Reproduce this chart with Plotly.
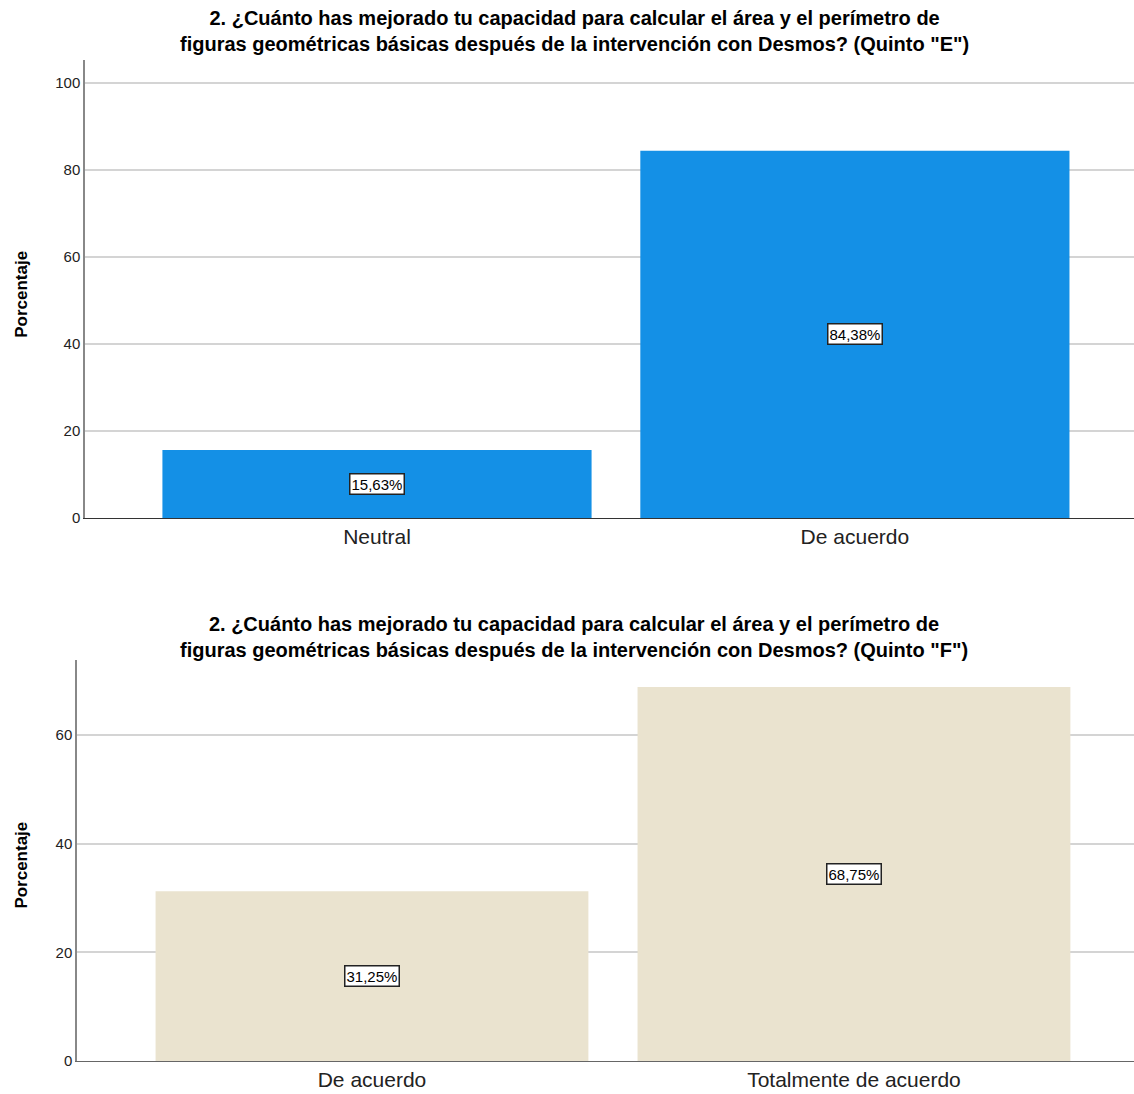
import plotly.graph_objects as go

# Data
cats_e = ["Neutral", "De acuerdo"]
vals_e = [15.63, 84.38]
cats_f = ["De acuerdo", "Totalmente de acuerdo"]
vals_f = [31.25, 68.75]
title_e = ["2. ¿Cuánto has mejorado tu capacidad para calcular el área y el perímetro de",
           "figuras geométricas básicas después de la intervención con Desmos? (Quinto \"E\")"]
title_f = ["2. ¿Cuánto has mejorado tu capacidad para calcular el área y el perímetro de",
           "figuras geométricas básicas después de la intervención con Desmos? (Quinto \"F\")"]
y_ticks_e = [0, 20, 40, 60, 80, 100]
y_ticks_f = [0, 20, 40, 60]

W, H = 1134, 1094
FONT = "Liberation Sans, Arial, sans-serif"

def fmt(v):
    return f"{v:.2f}".replace(".", ",") + "%"

fig = go.Figure()
fig.add_trace(go.Bar(x=cats_e, y=vals_e, marker=dict(color="#1490E6", line=dict(width=0)),
                     width=0.898, xaxis="x", yaxis="y", showlegend=False, hoverinfo="skip"))
fig.add_trace(go.Bar(x=cats_f, y=vals_f, marker=dict(color="#EAE3CF", line=dict(width=0)),
                     width=0.898, xaxis="x2", yaxis="y2", showlegend=False, hoverinfo="skip"))

ax_common = dict(showgrid=False, zeroline=False, ticks="", showline=True,
                 linewidth=1, tickfont=dict(family=FONT, size=21, color="#222"))
ay_common = dict(showgrid=True, gridcolor="#d4d4d4", gridwidth=1.5, zeroline=False,
                 showline=True, linecolor="#888", linewidth=1.5, ticks="",
                 tickfont=dict(family=FONT, size=15, color="#222"))

fig.update_layout(
    width=W, height=H, margin=dict(l=0, r=0, t=0, b=0),
    paper_bgcolor="white", plot_bgcolor="white",
    xaxis=dict(domain=[85 / W, 1], range=[-0.611, 1.584], linecolor="#333", **ax_common),
    yaxis=dict(domain=[1 - 522 / H, 1 - 60 / H], range=[0, 105.3], tickvals=y_ticks_e, **ay_common),
    xaxis2=dict(domain=[77 / W, 1], range=[-0.612, 1.581], linecolor="#666", anchor="y2", **ax_common),
    yaxis2=dict(domain=[1 - 1069 / H, 1 - 665 / H], range=[0, 73.7], tickvals=y_ticks_f, anchor="x2", **ay_common),
    bargap=0.1,
)

anns = []
lab_font = dict(family=FONT, size=15, color="black")
for c, v in zip(cats_e, vals_e):
    anns.append(dict(x=c, y=v / 2, xref="x", yref="y", text=fmt(v), showarrow=False,
                     font=lab_font, bgcolor="white", bordercolor="#222", borderwidth=1.5, borderpad=1))
for c, v in zip(cats_f, vals_f):
    anns.append(dict(x=c, y=v / 2, xref="x2", yref="y2", text=fmt(v), showarrow=False,
                     font=lab_font, bgcolor="white", bordercolor="#222", borderwidth=1.5, borderpad=1))

title_font = dict(family=FONT, size=20, color="black")
for lines, yc in [(title_e, 31), (title_f, 642)]:
    anns.append(dict(x=574 / W, y=1 - yc / H, xref="paper", yref="paper",
                     text="<br>".join("<b>" + t + "</b>" for t in lines),
                     xanchor="center", yanchor="middle", align="center", showarrow=False, font=title_font))
for yc in [297, 872]:
    anns.append(dict(x=22 / W, y=1 - yc / H, xref="paper", yref="paper", text="<b>Porcentaje</b>",
                     xanchor="center", yanchor="middle", textangle=-90, showarrow=False,
                     font=dict(family="Liberation Sans Narrow, Arial Narrow, Liberation Sans", size=17, color="black")))
fig.update_layout(annotations=anns)

fig.write_html("out.html")
